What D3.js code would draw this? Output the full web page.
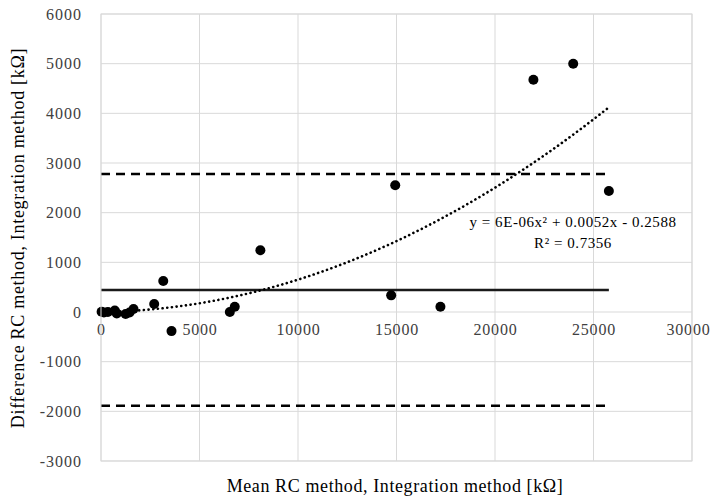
<!DOCTYPE html>
<html>
<head>
<meta charset="utf-8">
<script src="https://cdn.jsdelivr.net/npm/d3@7"></script>
<style>
  html, body { margin: 0; padding: 0; background: #fff; }
  svg { display: block; }
  text { font-family: "Liberation Serif", "Times New Roman", serif; }
</style>
</head>
<body>
<svg id="chart" width="711" height="499"></svg>
<script>
// Bland–Altman data: mean of both methods vs. their difference (kΩ)
const meanValues = [30, 150, 350, 700, 800, 1250, 1450, 1650, 2700, 3160, 3580, 6540, 6790, 8090, 14730, 14935, 17230, 21950, 23970, 25780];
const diffValues = [5, -10, 0, 30, -30, -40, -10, 60, 160, 623, -385, 0, 107, 1242, 335, 2552, 107, 4675, 4998, 2437];

// Mean difference and limits of agreement
const biasLine = [445];
const limitLines = [2780, -1890];

// Quadratic trend fit: y = a x² + b x + c
const trendCoef = [6e-6, 0.0052, -0.2588];
const trendLabel = ["y = 6E-06x² + 0.0052x - 0.2588", "R² = 0.7356"];

const xTicks = [0, 5000, 10000, 15000, 20000, 25000, 30000];
const yTicks = [-3000, -2000, -1000, 0, 1000, 2000, 3000, 4000, 5000, 6000];

const xTitle = "Mean RC method, Integration method [kΩ]";
const yTitle = "Difference  RC method, Integration method [kΩ]";

const width = 711, height = 499;
const svg = d3.select("#chart");
const plot = { left: 101, right: 692, top: 14, bottom: 461 };

const x = d3.scaleLinear().domain([0, 30000]).range([plot.left, plot.right]);
const y = d3.scaleLinear().domain([-3000, 6000]).range([plot.bottom, plot.top]);

const gridColor = "#d9d9d9";
const labelColor = "#404040";
const plainNumber = d => String(d);

// Gridlines
const grid = svg.append("g");
grid.selectAll("line.v").data(xTicks).join("line")
  .attr("x1", d => x(d)).attr("x2", d => x(d))
  .attr("y1", plot.top).attr("y2", plot.bottom)
  .attr("stroke", gridColor).attr("stroke-width", 1);
grid.selectAll("line.h").data(yTicks).join("line")
  .attr("x1", plot.left).attr("x2", plot.right)
  .attr("y1", d => y(d)).attr("y2", d => y(d))
  .attr("stroke", gridColor).attr("stroke-width", 1);

// Y axis tick labels
const yAxis = d3.axisLeft(y).tickValues(yTicks).tickSize(0).tickPadding(19).tickFormat(plainNumber);
const gy = svg.append("g").attr("transform", `translate(${plot.left},0)`).call(yAxis);
gy.select(".domain").remove();
gy.selectAll("text").attr("fill", labelColor).style("font-size", "16px")
  .style("letter-spacing", "1px")
  .style("font-family", "'Liberation Serif', serif");

// X axis tick labels sit below the zero line
const xAxis = d3.axisBottom(x).tickValues(xTicks).tickSize(0).tickPadding(12).tickFormat(plainNumber);
const gx = svg.append("g").attr("transform", `translate(0,${y(0)})`).call(xAxis);
gx.select(".domain").remove();
gx.selectAll("text").attr("fill", labelColor).style("font-size", "16px")
  .style("letter-spacing", "0.8px")
  .style("font-family", "'Liberation Serif', serif");
// Keep the last label inside the drawing
gx.selectAll("text").each(function () {
  const box = this.getBBox();
  const tickX = x(d3.select(this).datum());
  const overflow = tickX + box.x + box.width - (width - 1);
  if (overflow > 0) d3.select(this).attr("x", -overflow);
});

const xMin = d3.min(meanValues), xMax = d3.max(meanValues);

// Bias and limits of agreement
svg.selectAll("line.bias").data(biasLine).join("line")
  .attr("x1", x(0)).attr("x2", x(xMax))
  .attr("y1", d => y(d)).attr("y2", d => y(d))
  .attr("stroke", "#1a1a1a").attr("stroke-width", 2.5);
svg.selectAll("line.loa").data(limitLines).join("line")
  .attr("x1", x(0)).attr("x2", x(xMax))
  .attr("y1", d => y(d)).attr("y2", d => y(d))
  .attr("stroke", "#000").attr("stroke-width", 2.5)
  .attr("stroke-dasharray", "9,6");

// Trend curve
const curveXs = d3.range(0, 201).map(i => xMin + (xMax - xMin) * i / 200);
const trend = curveXs.map(v => [v, trendCoef[0] * v * v + trendCoef[1] * v + trendCoef[2]]);
svg.append("path")
  .attr("d", d3.line().x(d => x(d[0])).y(d => y(d[1]))(trend))
  .attr("fill", "none").attr("stroke", "#000").attr("stroke-width", 2.6)
  .attr("stroke-linecap", "round").attr("stroke-dasharray", "0.1,4.6");

// Data points
svg.selectAll("circle.pt").data(meanValues).join("circle")
  .attr("cx", d => x(d)).attr("cy", (d, i) => y(diffValues[i]))
  .attr("r", 5).attr("fill", "#000");

// Trend equation
svg.selectAll("text.eq").data(trendLabel).join("text")
  .attr("x", 573).attr("y", (d, i) => 227 + i * 21)
  .attr("text-anchor", "middle").attr("fill", "#000")
  .style("font-size", "15px").style("letter-spacing", "0.55px").text(d => d);

// Axis titles
svg.append("text").attr("x", 395).attr("y", 492)
  .attr("text-anchor", "middle").attr("fill", "#000")
  .style("font-size", "18px").style("letter-spacing", "0.6px").text(xTitle);
svg.append("text")
  .attr("transform", `translate(24,238) rotate(-90)`)
  .attr("text-anchor", "middle").attr("fill", "#000")
  .style("font-size", "18px").style("letter-spacing", "0.7px").text(yTitle);

// Plot area frame
svg.append("rect").attr("x", plot.left).attr("y", plot.top)
  .attr("width", plot.right - plot.left).attr("height", plot.bottom - plot.top)
  .attr("fill", "none").attr("stroke", gridColor).attr("stroke-width", 1);
</script>
</body>
</html>
